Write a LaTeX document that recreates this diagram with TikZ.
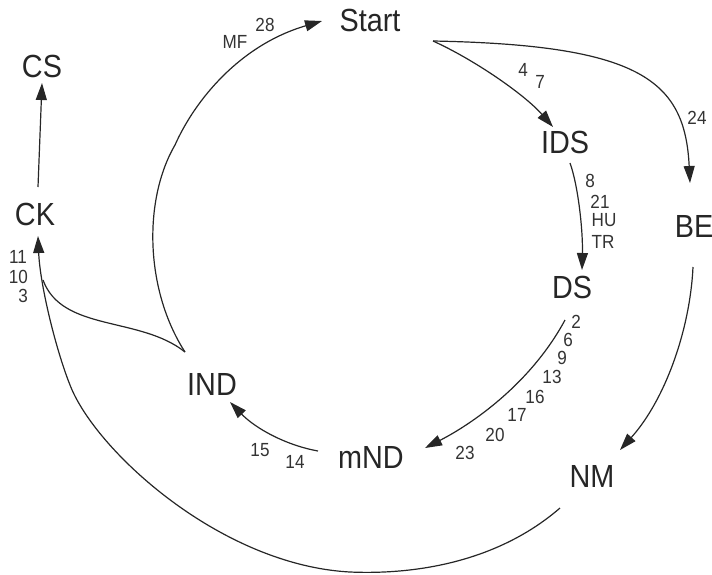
\documentclass[tikz,border=0pt]{standalone}
\usepackage{fontspec}
\setmainfont{Liberation Sans}[FakeStretch=0.9]
\usetikzlibrary{arrows.meta}
\begin{document}
\begin{tikzpicture}[x=1pt,y=-1pt,
  st/.style={font=\fontsize{32}{32}\selectfont, anchor=base, inner sep=0pt, text=black!85},
  lb/.style={font=\fontsize{19}{19}\selectfont, inner sep=0pt, text=black!80},
  conn/.style={line width=1.2pt, draw=black!85, -{Triangle[length=17pt,width=11pt]}},
  plainline/.style={line width=1.2pt, draw=black!85}]
\useasboundingbox (0,0) rectangle (712,574);
% nodes
\node[st] (start) at (370,31) {Start};
\node[st] (ids) at (565,153) {IDS};
\node[st] (be) at (694,237) {BE};
\node[st] (ds) at (572,298) {DS};
\node[st] (nm) at (592,487) {NM};
\node[st] (mnd) at (371,468) {mND};
\node[st] (ind) at (212,395) {IND};
\node[st] (ck) at (35,225) {CK};
\node[st] (cs) at (42,77) {CS};
% connector end points
\coordinate (sA) at (433,41);
\coordinate (idsT) at (553,127);
\coordinate (beT) at (690,183);
\coordinate (idsB) at (570,163);
\coordinate (dsT) at (582,270);
\coordinate (dsB) at (565,320);
\coordinate (mndW) at (425,448);
\coordinate (mndL) at (318,451);
\coordinate (indB) at (230,402);
\coordinate (beB) at (693,267);
\coordinate (nmT) at (620,450);
\coordinate (nmB) at (560,508);
\coordinate (ckB) at (38,236);
\coordinate (ckT) at (38,187);
\coordinate (csB) at (42,83);
\coordinate (cusp) at (185,352);
\coordinate (merge) at (43,280);
\coordinate (startW) at (322,21);
% connectors
\draw[conn] (sA) .. controls (475,60) and (525,95) .. (idsT);
\draw[conn] (sA) .. controls (640,45) and (685,80) .. (beT);
\draw[conn] (idsB) .. controls (578,185) and (583,230) .. (dsT);
\draw[conn] (dsB) .. controls (530,385) and (470,425) .. (mndW);
\draw[conn] (mndL) .. controls (285,445) and (255,428) .. (indB);
\draw[conn] (beB) .. controls (690,330) and (665,400) .. (nmT);
\draw[conn] (nmB) .. controls (500,560) and (420,575) .. (350,572)
  .. controls (220,565) and (95,450) .. (70,385)
  .. controls (56,350) and (40,285) .. (ckB);
\draw[conn] (ckT) -- (csB);
\draw[plainline] (cusp) .. controls (140,316) and (62,332) .. (merge);
\draw[conn] (cusp) .. controls (145,290) and (143,200) .. (175,145)
  .. controls (195,100) and (240,45) .. (startW);
% labels
\node[lb] at (265,25) {28};
\node[lb] at (235,42) {MF};
\node[lb] at (523,70) {4};
\node[lb] at (540,82) {7};
\node[lb] at (697,118) {24};
\node[lb] at (590,181) {8};
\node[lb] at (600,202) {21};
\node[lb] at (604,220) {HU};
\node[lb] at (603,242) {TR};
\node[lb] at (576,322) {2};
\node[lb] at (568,340) {6};
\node[lb] at (562,358) {9};
\node[lb] at (552,377) {13};
\node[lb] at (535,397) {16};
\node[lb] at (517,415) {17};
\node[lb] at (495,435) {20};
\node[lb] at (465,453) {23};
\node[lb] at (260,450) {15};
\node[lb] at (295,462) {14};
\node[lb, anchor=east] at (27,257) {11};
\node[lb, anchor=east] at (28,277) {10};
\node[lb, anchor=east] at (28,296) {3};
\end{tikzpicture}
\end{document}
